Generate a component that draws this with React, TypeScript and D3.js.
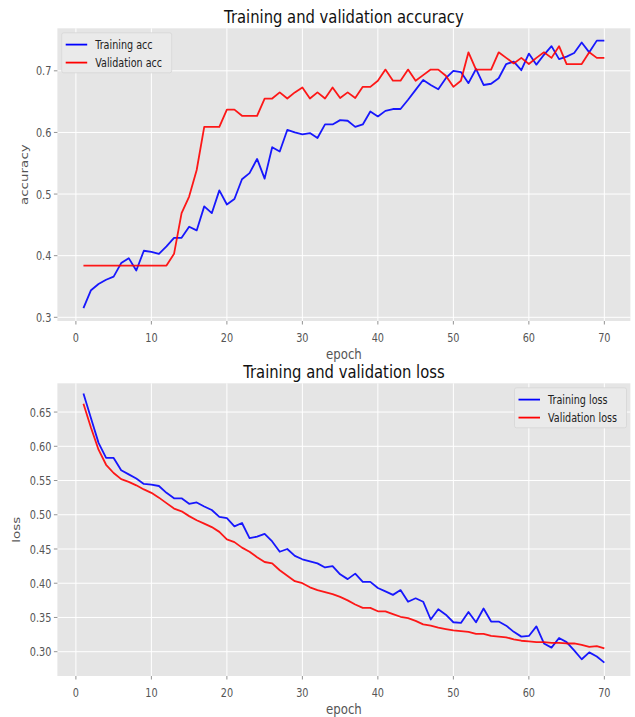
import * as d3 from 'd3';

// values, epochs 1..70
const trainAcc = [
  0.315, 0.344, 0.354, 0.361, 0.366, 0.388, 0.396, 0.376, 0.408, 0.406,
  0.403, 0.415, 0.429, 0.429, 0.447, 0.441, 0.48, 0.469, 0.506, 0.483,
  0.492, 0.524, 0.534, 0.557, 0.525, 0.576, 0.569, 0.604, 0.6, 0.597,
  0.599, 0.591, 0.613, 0.613, 0.62, 0.619, 0.609, 0.613, 0.634, 0.626,
  0.635, 0.638, 0.638, 0.653, 0.669, 0.685, 0.677, 0.67, 0.688, 0.7,
  0.698, 0.68, 0.703, 0.677, 0.679, 0.688, 0.711, 0.715, 0.701, 0.728,
  0.71, 0.726, 0.74, 0.719, 0.723, 0.729, 0.746, 0.73, 0.749, 0.749,
];
const valAcc = [
  0.384, 0.384, 0.384, 0.384, 0.384, 0.384, 0.384, 0.384, 0.384, 0.384,
  0.384, 0.384, 0.403, 0.469, 0.496, 0.539, 0.609, 0.609, 0.609, 0.637,
  0.637, 0.627, 0.627, 0.627, 0.655, 0.655, 0.665, 0.655, 0.665, 0.673,
  0.655, 0.665, 0.655, 0.673, 0.656, 0.665, 0.656, 0.674, 0.674, 0.684,
  0.702, 0.684, 0.684, 0.702, 0.684, 0.693, 0.702, 0.702, 0.692, 0.674,
  0.684, 0.73, 0.702, 0.702, 0.702, 0.73, 0.721, 0.712, 0.721, 0.711,
  0.721, 0.73, 0.721, 0.74, 0.711, 0.711, 0.711, 0.73, 0.721, 0.721,
];
const trainLoss = [
  0.677, 0.641, 0.605, 0.583, 0.583, 0.565, 0.559, 0.553, 0.545, 0.544,
  0.542, 0.532, 0.524, 0.524, 0.516, 0.518, 0.512, 0.507, 0.497, 0.495,
  0.483, 0.488, 0.466, 0.468, 0.472, 0.461, 0.446, 0.45, 0.44, 0.435,
  0.432, 0.429, 0.423, 0.425, 0.413, 0.406, 0.414, 0.402, 0.402, 0.393,
  0.388, 0.383, 0.39, 0.373, 0.378, 0.373, 0.347, 0.362, 0.354, 0.343,
  0.342, 0.358, 0.343, 0.363, 0.344, 0.344, 0.338, 0.329, 0.322, 0.323,
  0.337, 0.312, 0.306, 0.32, 0.314, 0.302, 0.289, 0.299, 0.293, 0.284,
];
const valLoss = [
  0.662, 0.627, 0.595, 0.573, 0.561, 0.552, 0.548, 0.543, 0.537, 0.532,
  0.525, 0.517, 0.509, 0.505, 0.498, 0.492, 0.487, 0.482, 0.475, 0.464,
  0.46, 0.452, 0.446, 0.438, 0.431, 0.429, 0.419, 0.411, 0.403, 0.4,
  0.394, 0.39, 0.387, 0.384, 0.38, 0.375, 0.369, 0.364, 0.364, 0.359,
  0.359, 0.355, 0.351, 0.349, 0.345, 0.34, 0.338, 0.335, 0.333, 0.331,
  0.33, 0.329, 0.326, 0.326, 0.323, 0.322, 0.321, 0.318, 0.316, 0.315,
  0.314, 0.314, 0.313, 0.313, 0.312, 0.312, 0.31, 0.307, 0.308, 0.305,
];
const epochs = trainAcc.map((_, i) => i + 1);

const xTicks = [0, 10, 20, 30, 40, 50, 60, 70];
const accTicks = [0.3, 0.4, 0.5, 0.6, 0.7];
const lossTicks = [0.3, 0.35, 0.4, 0.45, 0.5, 0.55, 0.6, 0.65];

const W = 635;
const H = 717;
const left = 57.4;
const right = 630.4;
const font = 'DejaVu Sans, sans-serif';

// text squeezed sideways, like the reference picture
function Txt({ x, y, size, sx = 0.76, anchor = 'start', fill = '#555', children }) {
  return (
    <text
      transform={`translate(${x},${y}) scale(${sx},1)`}
      fontSize={size}
      fontFamily={font}
      textAnchor={anchor}
      fill={fill}
    >
      {children}
    </text>
  );
}

function Panel({ top, bottom, yDomain, yTicks, yFmt, yLabel, labelX, title, series, legend }) {
  const x = d3.scaleLinear([-2.45, 73.45], [left, right]);
  const y = d3.scaleLinear(yDomain, [bottom, top]);
  const line = d3.line<number>().x((_, i) => x(epochs[i])).y((d) => y(d));
  const mid = (top + bottom) / 2;

  const lw = 110;
  const lx = legend === 'left' ? 61.7 : 514.5;
  const ly = top + 4.5;

  return (
    <g>
      <rect x={left} y={top} width={right - left} height={bottom - top} fill="#E5E5E5" />
      {xTicks.map((t) => (
        <line key={'gx' + t} x1={x(t)} x2={x(t)} y1={top} y2={bottom} stroke="#fff" strokeWidth={1} />
      ))}
      {yTicks.map((t) => (
        <line key={'gy' + t} x1={left} x2={right} y1={y(t)} y2={y(t)} stroke="#fff" strokeWidth={1} />
      ))}
      {series.map((s) => (
        <path key={s.name} d={line(s.values) ?? ''} fill="none" stroke={s.color} strokeWidth={1.8} strokeOpacity={0.9} strokeLinejoin="round" />
      ))}
      {xTicks.map((t) => (
        <g key={'tx' + t}>
          <line x1={x(t)} x2={x(t)} y1={bottom} y2={bottom + 3.5} stroke="#777" strokeWidth={0.8} />
          <Txt x={x(t)} y={bottom + 20.5} size={12.8} anchor="middle">{t}</Txt>
        </g>
      ))}
      {yTicks.map((t) => (
        <g key={'ty' + t}>
          <line x1={left - 3.5} x2={left} y1={y(t)} y2={y(t)} stroke="#777" strokeWidth={0.8} />
          <Txt x={left - 6} y={y(t) + 4.6} size={12.8} anchor="end">{yFmt(t)}</Txt>
        </g>
      ))}
      <Txt x={(left + right) / 2} y={bottom + 38} size={13.5} sx={0.87} anchor="middle">epoch</Txt>
      <text
        transform={`translate(${labelX},${mid}) rotate(-90) scale(1,0.8)`}
        fontSize={13.5}
        fontFamily={font}
        textAnchor="middle"
        fill="#555"
      >
        {yLabel}
      </text>
      <Txt x={(left + right) / 2} y={top - 5.8} size={17} sx={0.87} anchor="middle" fill="#111">{title}</Txt>

      <rect x={lx} y={ly} width={legend === 'left' ? lw : 112} height={40} rx={2} fill="#EAEAEA" stroke="#D5D5D5" strokeWidth={0.8} />
      {series.map((s, i) => (
        <g key={'lg' + s.name}>
          <line x1={lx + 4} x2={lx + 25.5} y1={ly + 11.8 + i * 18} y2={ly + 11.8 + i * 18} stroke={s.color} strokeWidth={1.8} />
          <Txt x={lx + 33.5} y={ly + 16.5 + i * 18} size={13} sx={0.74} fill="#222">{s.name}</Txt>
        </g>
      ))}
    </g>
  );
}

export default function App() {
  return (
    <svg width={W} height={H} style={{ position: 'absolute', left: 0, top: 0, background: '#fff' }}>
      <Panel
        top={28.3}
        bottom={321}
        yDomain={[0.294, 0.769]}
        yTicks={accTicks}
        yFmt={d3.format('.1f')}
        yLabel="accuracy"
        labelX={27.5}
        title="Training and validation accuracy"
        legend="left"
        series={[
          { name: 'Training acc', values: trainAcc, color: '#0000ff' },
          { name: 'Validation acc', values: valAcc, color: '#ff0000' },
        ]}
      />
      <Panel
        top={383.3}
        bottom={676}
        yDomain={[0.2645, 0.692]}
        yTicks={lossTicks}
        yFmt={d3.format('.2f')}
        yLabel="loss"
        labelX={20}
        title="Training and validation loss"
        legend="right"
        series={[
          { name: 'Training loss', values: trainLoss, color: '#0000ff' },
          { name: 'Validation loss', values: valLoss, color: '#ff0000' },
        ]}
      />
    </svg>
  );
}
